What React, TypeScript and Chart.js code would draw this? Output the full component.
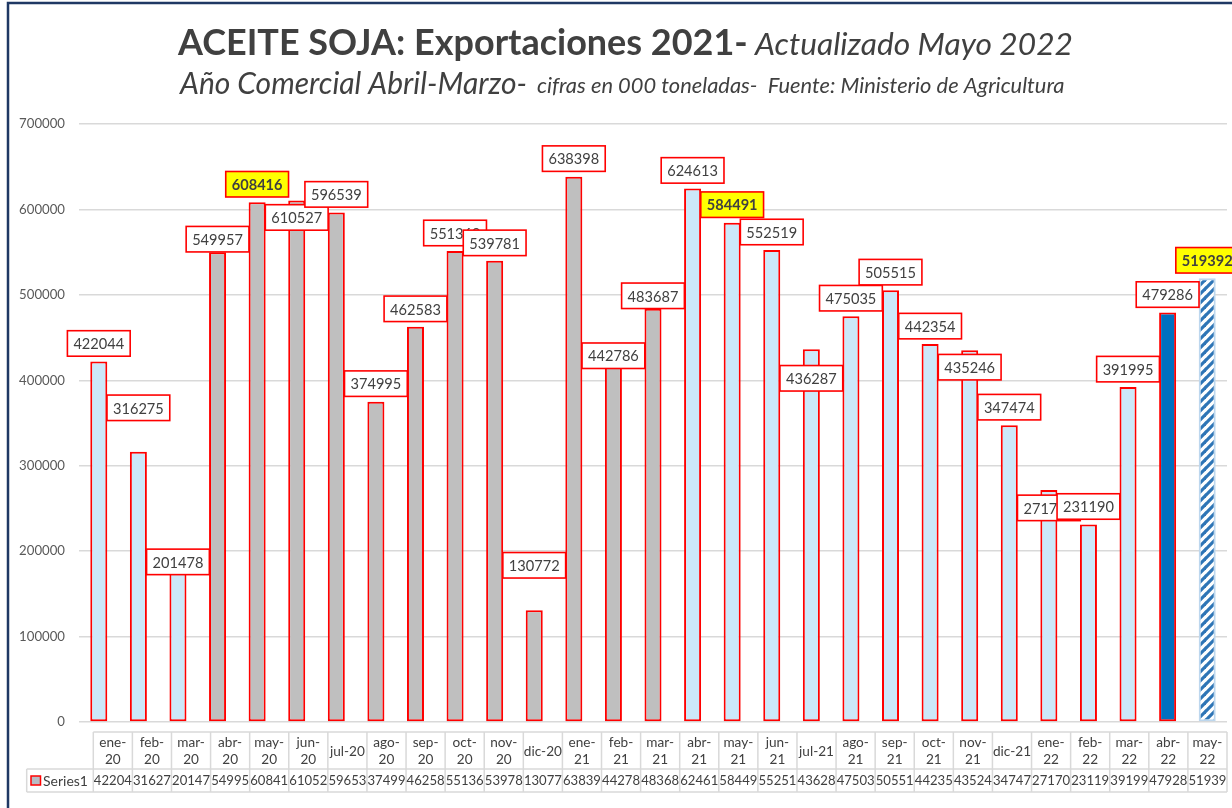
import React, { useEffect, useRef } from "react";
import { Chart, registerables } from "chart.js";

Chart.register(...registerables);

const categories = [
  "ene-20", "feb-20", "mar-20", "abr-20", "may-20", "jun-20", "jul-20", "ago-20", "sep-20", "oct-20", "nov-20", "dic-20",
  "ene-21", "feb-21", "mar-21", "abr-21", "may-21", "jun-21", "jul-21", "ago-21", "sep-21", "oct-21", "nov-21", "dic-21",
  "ene-22", "feb-22", "mar-22", "abr-22", "may-22",
];

const xTickLabels = [
  ["ene-", "20"], ["feb-", "20"], ["mar-", "20"], ["abr-", "20"], ["may-", "20"], ["jun-", "20"], ["jul-20"],
  ["ago-", "20"], ["sep-", "20"], ["oct-", "20"], ["nov-", "20"], ["dic-20"],
  ["ene-", "21"], ["feb-", "21"], ["mar-", "21"], ["abr-", "21"], ["may-", "21"], ["jun-", "21"], ["jul-21"],
  ["ago-", "21"], ["sep-", "21"], ["oct-", "21"], ["nov-", "21"], ["dic-21"],
  ["ene-", "22"], ["feb-", "22"], ["mar-", "22"], ["abr-", "22"], ["may-", "22"],
];

const exportValues = [
  422044, 316275, 201478, 549957, 608416, 610527, 596539, 374995, 462583, 551360, 539781, 130772,
  638398, 442786, 483687, 624613, 584491, 552519, 436287, 475035, 505515, 442354, 435246, 347474,
  271700, 231190, 391995, 479286, 519392,
];

const yTickValues = [0, 100000, 200000, 300000, 400000, 500000, 600000, 700000];

// bar style kind per category
const barKinds = [
  "light", "light", "light",
  "gray", "gray", "gray", "gray", "gray", "gray", "gray", "gray", "gray", "gray", "gray", "gray",
  "light", "light", "light", "light", "light", "light", "light", "light", "light", "light", "light", "light",
  "dark", "hatch",
];

// categories whose label is highlighted in yellow
const highlightedLabels = ["may-20", "may-21", "may-22"];

// vertical offset (px) of each label's centre from its bar top
const labelOffsets = [
  -18, -44, 12, -13, -18, 17, -18, -18, -18, -18, -18, -45,
  -18, 12, -13, -18, -18, -18, 29, -18, -18, -18, 17, -18,
  18, -18, -18, -18, -18,
];

const FONT = "Lato, 'Open Sans', 'DejaVu Sans', sans-serif";
const TEXT = "#404040";

function fitSize(ctx: CanvasRenderingContext2D, text: string, style: string, weight: string, target: number) {
  ctx.font = `${style} ${weight} 100px ${FONT}`;
  const w = ctx.measureText(text).width;
  return (100 * target) / w;
}

function makeHatch(): CanvasPattern | string {
  const c = document.createElement("canvas");
  c.width = 9;
  c.height = 9;
  const g = c.getContext("2d");
  if (!g) return "#2e75b6";
  g.fillStyle = "#ffffff";
  g.fillRect(0, 0, 9, 9);
  g.strokeStyle = "#2e75b6";
  g.lineWidth = 3.2;
  g.lineCap = "square";
  for (const off of [-9, 0, 9]) {
    g.beginPath();
    g.moveTo(off, 9);
    g.lineTo(off + 9, 0);
    g.stroke();
  }
  const ctx2 = document.createElement("canvas").getContext("2d");
  return (ctx2 && ctx2.createPattern(c, "repeat")) || "#2e75b6";
}

const frameTitlePlugin = {
  id: "frameTitle",
  beforeDraw(chart: any) {
    const ctx: CanvasRenderingContext2D = chart.ctx;
    ctx.save();
    ctx.fillStyle = "#ffffff";
    ctx.fillRect(0, 0, chart.width, chart.height);
    ctx.restore();
  },
  afterDraw(chart: any) {
    const ctx: CanvasRenderingContext2D = chart.ctx;
    ctx.save();
    // frame
    ctx.strokeStyle = "#1f3864";
    ctx.lineWidth = 2.5;
    ctx.beginPath();
    ctx.moveTo(8, chart.height + 5);
    ctx.lineTo(8, 3);
    ctx.lineTo(chart.width + 5, 3);
    ctx.stroke();

    // titles
    ctx.fillStyle = TEXT;
    ctx.textBaseline = "alphabetic";
    ctx.textAlign = "left";
    const t1 = "ACEITE SOJA: Exportaciones 2021-";
    const t2 = "Actualizado Mayo 2022";
    const s1 = "Año Comercial Abril-Marzo-";
    const s2 = "cifras en 000 toneladas-  Fuente: Ministerio de Agricultura";
    let sz = fitSize(ctx, t1, "normal", "bold", 570);
    ctx.font = `normal bold ${sz}px ${FONT}`;
    ctx.fillText(t1, 178, 55);
    sz = fitSize(ctx, t2, "italic", "normal", 318);
    ctx.font = `italic normal ${sz}px ${FONT}`;
    ctx.fillText(t2, 755, 55);
    sz = fitSize(ctx, s1, "italic", "normal", 347);
    ctx.font = `italic normal ${sz}px ${FONT}`;
    ctx.fillText(s1, 180, 94);
    sz = fitSize(ctx, s2, "italic", "normal", 528);
    ctx.font = `italic normal ${sz}px ${FONT}`;
    ctx.fillText(s2, 537, 93);
    ctx.restore();
  },
};

const labelsPlugin = {
  id: "barLabels",
  afterDatasetsDraw(chart: any) {
    const ctx: CanvasRenderingContext2D = chart.ctx;
    const meta = chart.getDatasetMeta(0);
    ctx.save();
    ctx.textAlign = "center";
    ctx.textBaseline = "middle";
    meta.data.forEach((bar: any, i: number) => {
      const { x, y } = bar.getProps(["x", "y"], true);
      const hl = highlightedLabels.includes(categories[i]);
      const text = String(exportValues[i]);
      ctx.font = `normal ${hl ? "bold" : "normal"} 14.6px ${FONT}`;
      const w = ctx.measureText(text).width + 12;
      const h = 25.5;
      const cy = y + labelOffsets[i];
      ctx.fillStyle = hl ? "#ffff00" : "#ffffff";
      ctx.fillRect(x - w / 2, cy - h / 2, w, h);
      ctx.strokeStyle = "#ff0000";
      ctx.lineWidth = 1.6;
      ctx.strokeRect(x - w / 2, cy - h / 2, w, h);
      ctx.fillStyle = TEXT;
      ctx.fillText(text, x, cy + 1);
    });
    ctx.restore();
  },
};

const tablePlugin = {
  id: "dataTable",
  afterDraw(chart: any) {
    const ctx: CanvasRenderingContext2D = chart.ctx;
    const area = chart.chartArea;
    const n = categories.length;
    const colLeft = area.left + 14.3;
    const colRight = area.right;
    const cw = (colRight - colLeft) / n;
    const top = 732;
    const mid = 769;
    const bottom = 792;
    const seriesLeft = 26.7;
    ctx.save();
    ctx.strokeStyle = "#d9d9d9";
    ctx.lineWidth = 1.5;
    ctx.beginPath();
    ctx.moveTo(colLeft, top);
    ctx.lineTo(colRight, top);
    ctx.moveTo(seriesLeft, mid);
    ctx.lineTo(colRight, mid);
    ctx.moveTo(seriesLeft, bottom);
    ctx.lineTo(colRight, bottom);
    for (let k = 0; k <= n; k++) {
      const x = colLeft + k * cw;
      ctx.moveTo(x, top);
      ctx.lineTo(x, bottom);
    }
    ctx.moveTo(seriesLeft, mid);
    ctx.lineTo(seriesLeft, bottom);
    ctx.stroke();

    ctx.fillStyle = TEXT;
    ctx.textAlign = "center";
    ctx.textBaseline = "middle";
    ctx.font = `normal normal 13.6px ${FONT}`;
    xTickLabels.forEach((lines, i) => {
      const cx = colLeft + (i + 0.5) * cw;
      if (lines.length === 1) {
        ctx.fillText(lines[0], cx, 751.5);
      } else {
        ctx.fillText(lines[0], cx, 743);
        ctx.fillText(lines[1], cx, 760);
      }
    });

    // values row (Excel clips them to the cell)
    ctx.font = `normal normal 13.1px ${FONT}`;
    exportValues.forEach((v, i) => {
      const cx = colLeft + (i + 0.5) * cw;
      ctx.fillText(String(v).slice(0, 5), cx, 781);
    });

    // legend key
    ctx.fillStyle = "#b9bcc4";
    ctx.fillRect(31, 776, 9.5, 9);
    ctx.strokeStyle = "#ff0000";
    ctx.lineWidth = 1.5;
    ctx.strokeRect(31, 776, 9.5, 9);
    ctx.fillStyle = TEXT;
    ctx.textAlign = "left";
    ctx.font = `normal normal 14px ${FONT}`;
    ctx.fillText("Series1", 43, 781);
    ctx.restore();
  },
};

export default function App() {
  const canvasRef = useRef<HTMLCanvasElement | null>(null);

  useEffect(() => {
    const canvas = canvasRef.current;
    if (!canvas) return;
    const hatch = makeHatch();
    const fillFor: Record<string, any> = {
      light: "#cce8f9",
      gray: "#bfbfbf",
      dark: "#0070c0",
      hatch: hatch,
    };
    const borderFor: Record<string, string> = {
      light: "#ff0000",
      gray: "#ff0000",
      dark: "#ff0000",
      hatch: "#bdd7ee",
    };
    const chart = new Chart(canvas, {
      type: "bar",
      data: {
        labels: categories,
        datasets: [
          {
            label: "Series1",
            data: exportValues,
            backgroundColor: barKinds.map((k) => fillFor[k]),
            borderColor: barKinds.map((k) => borderFor[k]),
            borderWidth: 2,
            borderSkipped: false,
            barPercentage: 0.43,
            categoryPercentage: 1,
          },
        ],
      },
      options: {
        responsive: false,
        animation: false,
        devicePixelRatio: 1,
        layout: { padding: { top: 124, bottom: 86, left: 0, right: 5 } },
        plugins: {
          legend: { display: false },
          title: { display: false },
          tooltip: { enabled: false },
        },
        scales: {
          x: {
            display: false,
            offset: true,
          },
          y: {
            min: 0,
            max: 700000,
            afterFit: (scale: any) => {
              scale.width = 79;
            },
            afterBuildTicks: (scale: any) => {
              scale.ticks = yTickValues.map((v) => ({ value: v }));
            },
            border: { display: false },
            grid: { color: "#d9d9d9", lineWidth: 1.5, drawTicks: false },
            ticks: {
              padding: 14,
              color: "#595959",
              font: { family: FONT, size: 13.2 },
              callback: (v: any) => String(v),
            },
          },
        },
      },
      plugins: [frameTitlePlugin, labelsPlugin, tablePlugin],
    });
    return () => chart.destroy();
  }, []);

  return (
    <div style={{ position: "fixed", left: 0, top: 0, width: 1232, height: 808, background: "#fff" }}>
      <canvas ref={canvasRef} width={1232} height={808} style={{ display: "block", width: 1232, height: 808 }} />
    </div>
  );
}
